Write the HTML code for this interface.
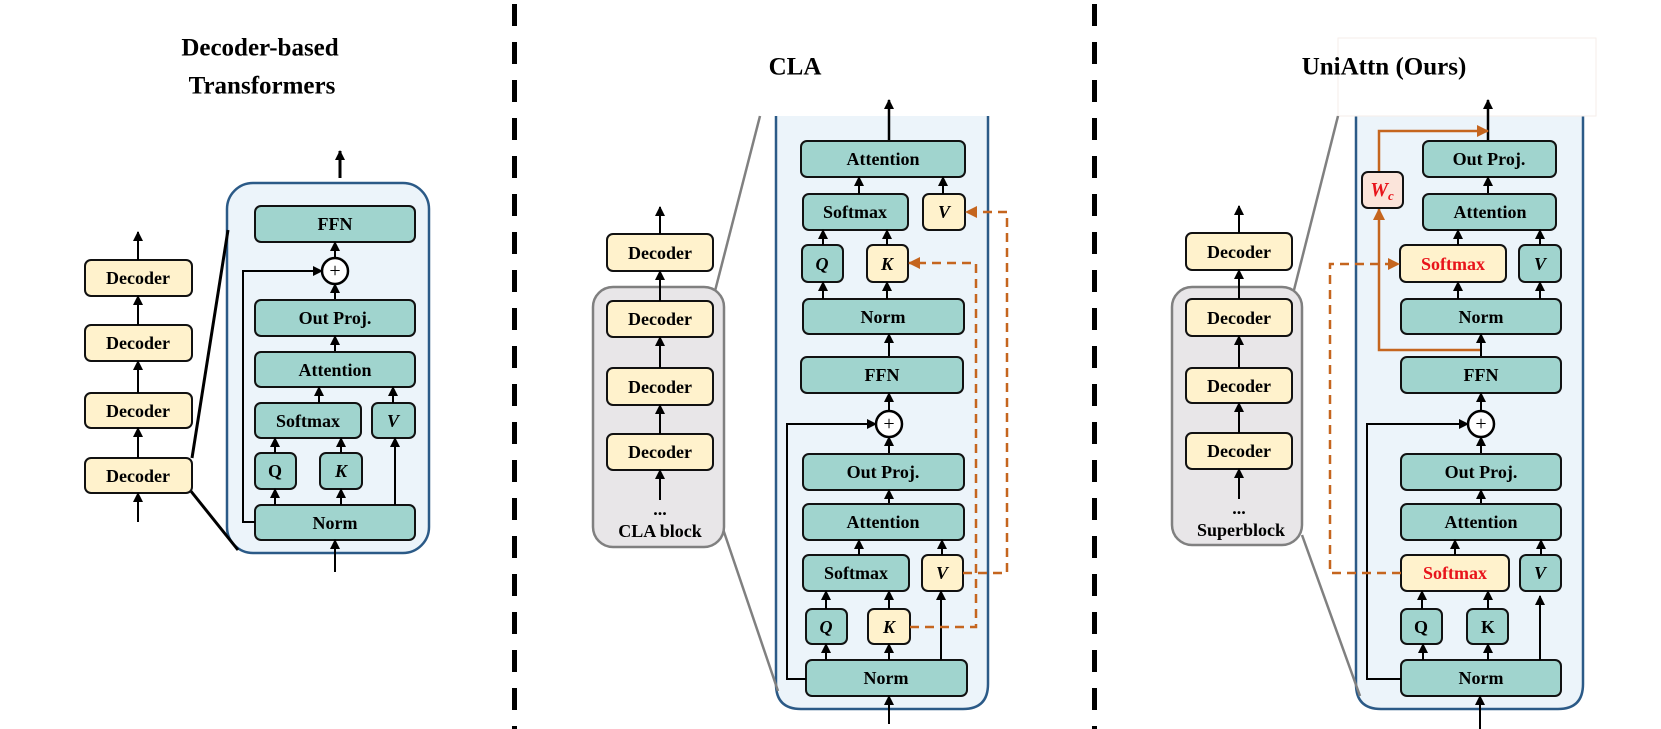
<!DOCTYPE html>
<html><head><meta charset="utf-8"><style>
html,body{margin:0;padding:0;background:#fff;}
svg{display:block;}
text{font-family:"Liberation Serif",serif;font-weight:bold;text-anchor:middle;dominant-baseline:central;}
.t{fill:#a0d4ce;stroke:#111;stroke-width:2;}
.y{fill:#fff2cc;stroke:#111;stroke-width:2;}
.l{stroke:#000;stroke-width:2;fill:none;}
.o{stroke:#c5651e;stroke-width:2.5;fill:none;}
.od{stroke:#c5651e;stroke-width:2.5;fill:none;stroke-dasharray:9 6;}
.g{stroke:#808080;stroke-width:2.5;fill:none;}
</style></head><body>
<svg width="1661" height="729" viewBox="0 0 1661 729" xmlns="http://www.w3.org/2000/svg" font-size="18">
<defs>
<marker id="a" markerWidth="10" markerHeight="10" refX="9" refY="5" orient="auto" markerUnits="userSpaceOnUse"><path d="M0,0 L10,5 L0,10 z" fill="#000"/></marker>
<marker id="ao" markerWidth="12" markerHeight="12" refX="11" refY="6" orient="auto" markerUnits="userSpaceOnUse"><path d="M0,0 L12,6 L0,12 z" fill="#c5651e"/></marker>
</defs>

<!-- separators -->
<line x1="514.5" y1="4" x2="514.5" y2="729" stroke="#000" stroke-width="5" stroke-dasharray="22 16"/>
<line x1="1094.5" y1="4" x2="1094.5" y2="729" stroke="#000" stroke-width="5" stroke-dasharray="22 16"/>

<!-- ================= LEFT ================= -->
<text x="260" y="48" font-size="25">Decoder-based</text>
<text x="262" y="86" font-size="25">Transformers</text>

<rect x="227" y="183" width="202" height="370" rx="26" fill="#ecf4fa" stroke="#2b5a87" stroke-width="2.5"/>
<line x1="192" y1="458" x2="228" y2="230" stroke="#000" stroke-width="3"/>
<line x1="190" y1="490" x2="238" y2="550" stroke="#000" stroke-width="3"/>

<rect class="y" x="85" y="260" width="107" height="36" rx="6"/><text x="138" y="278">Decoder</text>
<rect class="y" x="85" y="325" width="107" height="36" rx="6"/><text x="138" y="343">Decoder</text>
<rect class="y" x="85" y="393" width="107" height="35" rx="6"/><text x="138" y="411">Decoder</text>
<rect class="y" x="85" y="458" width="107" height="35" rx="6"/><text x="138" y="476">Decoder</text>
<line class="l" x1="138" y1="260" x2="138" y2="232" marker-end="url(#a)"/>
<line class="l" x1="138" y1="325" x2="138" y2="296" marker-end="url(#a)"/>
<line class="l" x1="138" y1="393" x2="138" y2="361" marker-end="url(#a)"/>
<line class="l" x1="138" y1="458" x2="138" y2="428" marker-end="url(#a)"/>
<line class="l" x1="138" y1="522" x2="138" y2="493" marker-end="url(#a)"/>

<line x1="340" y1="178" x2="340" y2="151" stroke="#000" stroke-width="3" marker-end="url(#a)"/>
<rect class="t" x="255" y="206" width="160" height="36" rx="6"/><text x="335" y="224">FFN</text>
<line class="l" x1="335" y1="258" x2="335" y2="242" marker-end="url(#a)"/>
<circle cx="335" cy="271" r="13" fill="#fff" stroke="#000" stroke-width="2.5"/>
<text x="335" y="271" font-size="20" style="font-weight:normal">+</text>
<line class="l" x1="335" y1="300" x2="335" y2="284" marker-end="url(#a)"/>
<rect class="t" x="255" y="300" width="160" height="36" rx="6"/><text x="335" y="318">Out Proj.</text>
<line class="l" x1="335" y1="352" x2="335" y2="336" marker-end="url(#a)"/>
<rect class="t" x="255" y="352" width="160" height="35" rx="6"/><text x="335" y="370">Attention</text>
<rect class="t" x="255" y="403" width="106" height="35" rx="6"/><text x="308" y="421">Softmax</text>
<rect class="t" x="372" y="403" width="43" height="35" rx="6"/><text x="393" y="421" font-style="italic">V</text>
<line class="l" x1="319" y1="403" x2="319" y2="387" marker-end="url(#a)"/>
<line class="l" x1="393" y1="403" x2="393" y2="387" marker-end="url(#a)"/>
<rect class="t" x="255" y="453" width="41" height="36" rx="6"/><text x="275" y="471">Q</text>
<rect class="t" x="320" y="453" width="42" height="36" rx="6"/><text x="341" y="471" font-style="italic">K</text>
<line class="l" x1="275" y1="453" x2="275" y2="438" marker-end="url(#a)"/>
<line class="l" x1="341" y1="453" x2="341" y2="438" marker-end="url(#a)"/>
<rect class="t" x="255" y="505" width="160" height="35" rx="6"/><text x="335" y="523">Norm</text>
<line class="l" x1="275" y1="505" x2="275" y2="489" marker-end="url(#a)"/>
<line class="l" x1="341" y1="505" x2="341" y2="489" marker-end="url(#a)"/>
<line class="l" x1="395" y1="505" x2="395" y2="438" marker-end="url(#a)"/>
<polyline class="l" points="255,522 243,522 243,271 322,271" marker-end="url(#a)"/>
<line class="l" x1="335" y1="572" x2="335" y2="540" marker-end="url(#a)"/>

<!-- ================= MIDDLE ================= -->
<text x="795" y="67" font-size="25">CLA</text>
<path d="M776,116 L776,684 Q776,709 801,709 L963,709 Q988,709 988,684 L988,116" fill="#ecf4fa" stroke="#2b5a87" stroke-width="2.5"/>
<line class="g" x1="760" y1="116" x2="715" y2="291"/>
<line class="g" x1="723" y1="529" x2="778" y2="691"/>
<rect x="593" y="287" width="131" height="260" rx="20" fill="#e8e6e8" stroke="#808080" stroke-width="2.5"/>
<rect class="y" x="607" y="234" width="106" height="37" rx="6"/><text x="660" y="253">Decoder</text>
<rect class="y" x="607" y="301" width="106" height="36" rx="6"/><text x="660" y="319">Decoder</text>
<rect class="y" x="607" y="368" width="106" height="37" rx="6"/><text x="660" y="387">Decoder</text>
<rect class="y" x="607" y="434" width="106" height="36" rx="6"/><text x="660" y="452">Decoder</text>
<line class="l" x1="660" y1="234" x2="660" y2="207" marker-end="url(#a)"/>
<line class="l" x1="660" y1="301" x2="660" y2="271" marker-end="url(#a)"/>
<line class="l" x1="660" y1="368" x2="660" y2="337" marker-end="url(#a)"/>
<line class="l" x1="660" y1="434" x2="660" y2="405" marker-end="url(#a)"/>
<line class="l" x1="660" y1="500" x2="660" y2="470" marker-end="url(#a)"/>
<text x="660" y="509">...</text>
<text x="660" y="531">CLA block</text>

<line x1="889" y1="141" x2="889" y2="100" stroke="#000" stroke-width="2.5" marker-end="url(#a)"/>
<rect class="t" x="801" y="141" width="164" height="36" rx="6"/><text x="883" y="159">Attention</text>
<rect class="t" x="803" y="194" width="105" height="36" rx="6"/><text x="855" y="212">Softmax</text>
<rect class="y" x="923" y="194" width="42" height="36" rx="6"/><text x="944" y="212" font-style="italic">V</text>
<line class="l" x1="859" y1="194" x2="859" y2="177" marker-end="url(#a)"/>
<line class="l" x1="943" y1="194" x2="943" y2="177" marker-end="url(#a)"/>
<rect class="t" x="802" y="245" width="41" height="37" rx="6"/><text x="822" y="264" font-style="italic">Q</text>
<rect class="y" x="867" y="245" width="41" height="37" rx="6"/><text x="887" y="264" font-style="italic">K</text>
<line class="l" x1="823" y1="245" x2="823" y2="230" marker-end="url(#a)"/>
<line class="l" x1="887" y1="245" x2="887" y2="230" marker-end="url(#a)"/>
<rect class="t" x="803" y="299" width="161" height="35" rx="6"/><text x="883" y="317">Norm</text>
<line class="l" x1="823" y1="299" x2="823" y2="282" marker-end="url(#a)"/>
<line class="l" x1="887" y1="299" x2="887" y2="282" marker-end="url(#a)"/>
<line class="l" x1="889" y1="357" x2="889" y2="334" marker-end="url(#a)"/>
<rect class="t" x="801" y="357" width="162" height="36" rx="6"/><text x="882" y="375">FFN</text>
<line class="l" x1="889" y1="411" x2="889" y2="393" marker-end="url(#a)"/>
<circle cx="889" cy="424" r="13" fill="#fff" stroke="#000" stroke-width="2.5"/>
<text x="889" y="424" font-size="20" style="font-weight:normal">+</text>
<line class="l" x1="889" y1="454" x2="889" y2="437" marker-end="url(#a)"/>
<rect class="t" x="803" y="454" width="161" height="36" rx="6"/><text x="883" y="472">Out Proj.</text>
<line class="l" x1="889" y1="504" x2="889" y2="490" marker-end="url(#a)"/>
<rect class="t" x="803" y="504" width="161" height="36" rx="6"/><text x="883" y="522">Attention</text>
<rect class="t" x="803" y="555" width="106" height="36" rx="6"/><text x="856" y="573">Softmax</text>
<rect class="y" x="922" y="555" width="41" height="36" rx="6"/><text x="942" y="573" font-style="italic">V</text>
<line class="l" x1="859" y1="555" x2="859" y2="540" marker-end="url(#a)"/>
<line class="l" x1="942" y1="555" x2="942" y2="540" marker-end="url(#a)"/>
<rect class="t" x="806" y="609" width="41" height="35" rx="6"/><text x="826" y="627" font-style="italic">Q</text>
<rect class="y" x="868" y="609" width="42" height="35" rx="6"/><text x="889" y="627" font-style="italic">K</text>
<line class="l" x1="826" y1="609" x2="826" y2="591" marker-end="url(#a)"/>
<line class="l" x1="889" y1="609" x2="889" y2="591" marker-end="url(#a)"/>
<rect class="t" x="806" y="660" width="161" height="36" rx="6"/><text x="886" y="678">Norm</text>
<line class="l" x1="826" y1="660" x2="826" y2="644" marker-end="url(#a)"/>
<line class="l" x1="889" y1="660" x2="889" y2="644" marker-end="url(#a)"/>
<line class="l" x1="941" y1="660" x2="941" y2="591" marker-end="url(#a)"/>
<polyline class="l" points="806,679 787,679 787,424 876,424" marker-end="url(#a)"/>
<line class="l" x1="889" y1="724" x2="889" y2="696" marker-end="url(#a)"/>
<polyline class="od" points="963,573 1007,573 1007,212 966,212" marker-end="url(#ao)"/>
<polyline class="od" points="910,627 976,627 976,263 909,263" marker-end="url(#ao)"/>

<!-- ================= RIGHT ================= -->
<path d="M1356,116 L1356,684 Q1356,709 1381,709 L1558,709 Q1583,709 1583,684 L1583,116" fill="#ecf4fa" stroke="#2b5a87" stroke-width="2.5"/>
<rect x="1338" y="38" width="258" height="78" fill="#fff" stroke="#f6eeea" stroke-width="1"/>
<text x="1384" y="67" font-size="25">UniAttn (Ours)</text>
<line class="g" x1="1338" y1="116" x2="1294" y2="290"/>
<line class="g" x1="1302" y1="535" x2="1360" y2="696"/>
<rect x="1172" y="287" width="130" height="258" rx="20" fill="#e8e6e8" stroke="#808080" stroke-width="2.5"/>
<rect class="y" x="1186" y="233" width="106" height="37" rx="6"/><text x="1239" y="252">Decoder</text>
<rect class="y" x="1186" y="299" width="106" height="37" rx="6"/><text x="1239" y="318">Decoder</text>
<rect class="y" x="1186" y="368" width="106" height="35" rx="6"/><text x="1239" y="386">Decoder</text>
<rect class="y" x="1186" y="433" width="106" height="36" rx="6"/><text x="1239" y="451">Decoder</text>
<line class="l" x1="1239" y1="233" x2="1239" y2="206" marker-end="url(#a)"/>
<line class="l" x1="1239" y1="299" x2="1239" y2="270" marker-end="url(#a)"/>
<line class="l" x1="1239" y1="368" x2="1239" y2="336" marker-end="url(#a)"/>
<line class="l" x1="1239" y1="433" x2="1239" y2="403" marker-end="url(#a)"/>
<line class="l" x1="1239" y1="499" x2="1239" y2="469" marker-end="url(#a)"/>
<text x="1239" y="508">...</text>
<text x="1241" y="530">Superblock</text>

<line x1="1488" y1="141" x2="1488" y2="100" stroke="#000" stroke-width="2.5" marker-end="url(#a)"/>
<polyline class="o" points="1481,350 1379,350 1379,209" marker-end="url(#ao)"/>
<polyline class="o" points="1379,172 1379,131 1488,131" marker-end="url(#ao)"/>
<rect x="1362" y="172" width="41" height="36" rx="6" fill="#fbe4da" stroke="#111" stroke-width="2"/>
<text x="1382" y="190" font-size="20" font-style="italic" fill="#e8141b">W<tspan font-size="13" dy="5">c</tspan></text>
<rect class="t" x="1423" y="141" width="133" height="36" rx="6"/><text x="1489" y="159">Out Proj.</text>
<line class="l" x1="1488" y1="194" x2="1488" y2="177" marker-end="url(#a)"/>
<rect class="t" x="1423" y="194" width="133" height="36" rx="6"/><text x="1490" y="212">Attention</text>
<rect class="y" x="1400" y="245" width="106" height="37" rx="6"/><text x="1453" y="264" fill="#e8141b">Softmax</text>
<rect class="t" x="1519" y="245" width="42" height="37" rx="6"/><text x="1540" y="264" font-style="italic">V</text>
<line class="l" x1="1458" y1="245" x2="1458" y2="230" marker-end="url(#a)"/>
<line class="l" x1="1540" y1="245" x2="1540" y2="230" marker-end="url(#a)"/>
<rect class="t" x="1401" y="299" width="160" height="35" rx="6"/><text x="1481" y="317">Norm</text>
<line class="l" x1="1458" y1="299" x2="1458" y2="282" marker-end="url(#a)"/>
<line class="l" x1="1540" y1="299" x2="1540" y2="282" marker-end="url(#a)"/>
<line class="l" x1="1481" y1="357" x2="1481" y2="334" marker-end="url(#a)"/>
<rect class="t" x="1401" y="357" width="160" height="36" rx="6"/><text x="1481" y="375">FFN</text>
<line class="l" x1="1481" y1="411" x2="1481" y2="393" marker-end="url(#a)"/>
<circle cx="1481" cy="424" r="13" fill="#fff" stroke="#000" stroke-width="2.5"/>
<text x="1481" y="424" font-size="20" style="font-weight:normal">+</text>
<line class="l" x1="1481" y1="454" x2="1481" y2="437" marker-end="url(#a)"/>
<rect class="t" x="1401" y="454" width="160" height="36" rx="6"/><text x="1481" y="472">Out Proj.</text>
<line class="l" x1="1481" y1="504" x2="1481" y2="490" marker-end="url(#a)"/>
<rect class="t" x="1401" y="504" width="160" height="36" rx="6"/><text x="1481" y="522">Attention</text>
<rect class="y" x="1401" y="555" width="108" height="36" rx="6"/><text x="1455" y="573" fill="#e8141b">Softmax</text>
<rect class="t" x="1520" y="555" width="41" height="36" rx="6"/><text x="1540" y="573" font-style="italic">V</text>
<line class="l" x1="1455" y1="555" x2="1455" y2="540" marker-end="url(#a)"/>
<line class="l" x1="1541" y1="555" x2="1541" y2="540" marker-end="url(#a)"/>
<rect class="t" x="1401" y="609" width="41" height="35" rx="6"/><text x="1421" y="627">Q</text>
<rect class="t" x="1467" y="609" width="41" height="35" rx="6"/><text x="1488" y="627">K</text>
<line class="l" x1="1422" y1="609" x2="1422" y2="591" marker-end="url(#a)"/>
<line class="l" x1="1488" y1="609" x2="1488" y2="591" marker-end="url(#a)"/>
<rect class="t" x="1401" y="660" width="160" height="36" rx="6"/><text x="1481" y="678">Norm</text>
<line class="l" x1="1423" y1="660" x2="1423" y2="644" marker-end="url(#a)"/>
<line class="l" x1="1488" y1="660" x2="1488" y2="644" marker-end="url(#a)"/>
<line class="l" x1="1540" y1="660" x2="1540" y2="596" marker-end="url(#a)"/>
<polyline class="l" points="1401,679 1367,679 1367,424 1468,424" marker-end="url(#a)"/>
<line class="l" x1="1480" y1="729" x2="1480" y2="696" marker-end="url(#a)"/>
<polyline class="od" points="1401,573 1330,573 1330,264 1399,264" marker-end="url(#ao)"/>
</svg>
</body></html>
